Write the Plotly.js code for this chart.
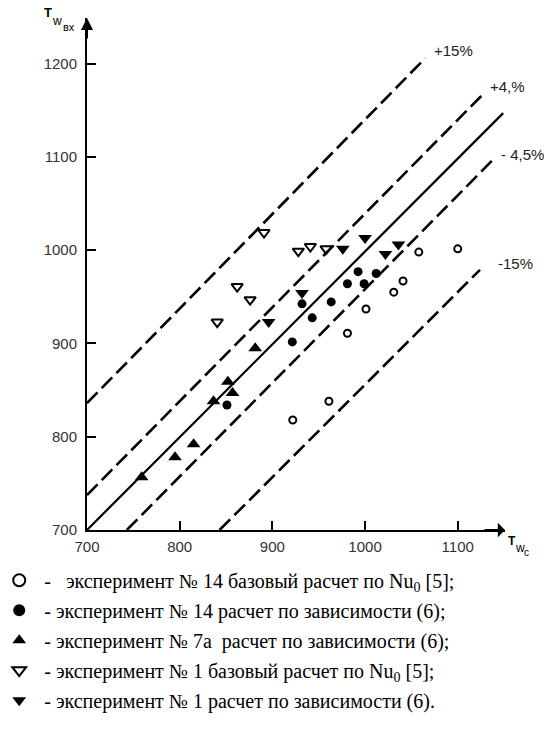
<!DOCTYPE html>
<html>
<head>
<meta charset="utf-8">
<script src="https://cdn.plot.ly/plotly-3.0.1.min.js"></script>
<style>html,body{margin:0;padding:0;background:#fff;}#chart{width:544px;height:748px;}</style>
</head>
<body>
<div id="chart"></div>
<script>
// ---- data ----
const exp14BaseX = [1058, 1100, 1041, 1031, 1001, 981, 961, 922];
const exp14BaseY = [998, 1001.5, 967, 955, 937, 911, 838, 818];
const exp14CalcX = [992.5, 1012, 981, 999, 963.5, 932, 943, 921.5, 851];
const exp14CalcY = [977, 975, 964, 964, 944.6, 942.5, 927.5, 901.7, 834];
const exp7aX = [759, 795, 815, 836.5, 852, 857, 881.5];
const exp7aY = [756.5, 778, 792, 838, 859, 847, 895];
const exp1BaseX = [891, 928, 941, 958, 862, 876, 840.5];
const exp1BaseY = [1019, 999, 1004, 1001.5, 961, 947, 923];
const exp1CalcX = [976, 1000, 1022, 1036, 932, 896];
const exp1CalcY = [1001.5, 1013, 996, 1006, 954, 923];

// guide lines (deviation bands)
const guideLabels = ['+15%', '+4,%', '', '- 4,5%', '-15%'];
const guideX0 = [700, 700, 700, 743, 843];
const guideY0 = [836, 737.5, 700, 700, 700];
const guideX1 = [1065, 1129, 1149, 1138, 1124];
const guideY1 = [1206, 1169, 1147, 1097, 979];

const seriesNames = [
  ' -   эксперимент № 14 базовый расчет по Nu<sub>0</sub> [5];',
  ' - эксперимент № 14 расчет по зависимости (6);',
  ' - эксперимент № 7а  расчет по зависимости (6);',
  ' - эксперимент № 1 базовый расчет по Nu<sub>0</sub> [5];',
  ' - эксперимент № 1 расчет по зависимости (6).'
];
const xTicks = [700, 800, 900, 1000, 1100];
const yTicks = [700, 800, 900, 1000, 1100, 1200];

// ---- traces ----
const traces = [];
for (let i = 0; i < guideX0.length; i++) {
  traces.push({
    x: [guideX0[i], guideX1[i]], y: [guideY0[i], guideY1[i]],
    mode: 'lines', showlegend: false, hoverinfo: 'skip',
    line: {color: '#000', width: guideLabels[i] === '' ? 2.2 : 2.6,
           dash: guideLabels[i] === '' ? 'solid' : '15px,6px'}
  });
}
traces.push({x: exp14BaseX, y: exp14BaseY, mode: 'markers', name: seriesNames[0], legendgroup: 'a',
  marker: {symbol: 'circle-open', size: 7, color: '#000', line: {width: 2}}});
traces.push({x: exp14CalcX, y: exp14CalcY, mode: 'markers', name: seriesNames[1], legendgroup: 'b',
  marker: {symbol: 'circle', size: 9, color: '#000'}});
traces.push({x: exp7aX, y: exp7aY, mode: 'markers', name: seriesNames[2], legendgroup: 'c',
  marker: {symbol: 'triangle-up', size: 12, color: '#000'}});
traces.push({x: exp1BaseX, y: exp1BaseY, mode: 'markers', name: seriesNames[3], legendgroup: 'd',
  marker: {symbol: 'triangle-down-open', size: 10, color: '#000', line: {width: 2}}});
traces.push({x: exp1CalcX, y: exp1CalcY, mode: 'markers', name: seriesNames[4], legendgroup: 'e',
  marker: {symbol: 'triangle-down', size: 12, color: '#000'}});

const sans = 'Liberation Sans, Arial, sans-serif';
const labelFont = {family: sans, size: 15, color: '#222'};
function lab(x, y, t) {
  return {xref: 'paper', yref: 'paper', x: x, y: y, xanchor: 'center', yanchor: 'middle',
          text: t, showarrow: false, font: labelFont};
}
const annotations = [
  lab(0.876, 0.9375, guideLabels[0]),
  lab(1.007, 0.867, guideLabels[1]),
  lab(1.041, 0.734, guideLabels[3]),
  lab(1.024, 0.521, guideLabels[4]),
  // axis arrows
  {xref: 'paper', yref: 'paper', x: 0, y: 1, ax: 0, ay: 22, text: '', showarrow: true,
   arrowhead: 2, arrowsize: 1.2, arrowwidth: 2, arrowcolor: '#000'},
  {xref: 'paper', yref: 'paper', x: 1, y: 0, ax: -22, ay: 0, text: '', showarrow: true,
   arrowhead: 1, arrowsize: 1.2, arrowwidth: 2, arrowcolor: '#000'},
  // axis titles
  {xref: 'paper', yref: 'paper', x: -0.108, y: 1.01, xanchor: 'left', yanchor: 'middle', showarrow: false,
   text: '<b>T</b>', font: {family: sans, size: 13, color: '#000'}},
  {xref: 'paper', yref: 'paper', x: -0.088, y: 0.995, xanchor: 'left', yanchor: 'middle', showarrow: false,
   text: 'w', font: {family: sans, size: 12, color: '#000'}},
  {xref: 'paper', yref: 'paper', x: -0.062, y: 0.982, xanchor: 'left', yanchor: 'middle', showarrow: false,
   text: 'вх', font: {family: sans, size: 11, color: '#000'}},
  {xref: 'paper', yref: 'paper', x: 1.002, y: -0.022, xanchor: 'left', yanchor: 'middle', showarrow: false,
   text: '<b>T</b>', font: {family: sans, size: 12, color: '#000'}},
  {xref: 'paper', yref: 'paper', x: 1.018, y: -0.035, xanchor: 'left', yanchor: 'middle', showarrow: false,
   text: 'w', font: {family: sans, size: 12, color: '#000'}},
  {xref: 'paper', yref: 'paper', x: 1.041, y: -0.043, xanchor: 'left', yanchor: 'middle', showarrow: false,
   text: 'c', font: {family: sans, size: 10, color: '#000'}}
];

const axisCommon = {
  showgrid: false, zeroline: false, showline: true, linecolor: '#000', linewidth: 2,
  ticks: 'inside', ticklen: 9, tickwidth: 2, tickcolor: '#000',
  tickfont: {family: sans, size: 15, color: '#333'},
  fixedrange: true
};

const layout = {
  width: 544, height: 748,
  margin: {l: 87, r: 39, t: 18, b: 218, autoexpand: false},
  paper_bgcolor: '#fff', plot_bgcolor: '#fff',
  xaxis: Object.assign({}, axisCommon, {range: [700, 1151], tickvals: xTicks, ticktext: xTicks.map(String), ticklabelstandoff: 2}),
  yaxis: Object.assign({}, axisCommon, {range: [700, 1249], tickvals: yTicks, ticktext: yTicks.map(String), ticklabelstandoff: 5}),
  showlegend: true,
  legend: {
    x: -0.21, xanchor: 'left', y: -0.06, yanchor: 'top',
    font: {family: 'Liberation Serif, Times New Roman, serif', size: 20, color: '#000'},
    traceorder: 'grouped', tracegroupgap: 1, itemsizing: 'constant',
    bgcolor: 'rgba(0,0,0,0)'
  },
  annotations: annotations
};

Plotly.newPlot('chart', traces, layout, {staticPlot: true, displayModeBar: false});
</script>
</body>
</html>
